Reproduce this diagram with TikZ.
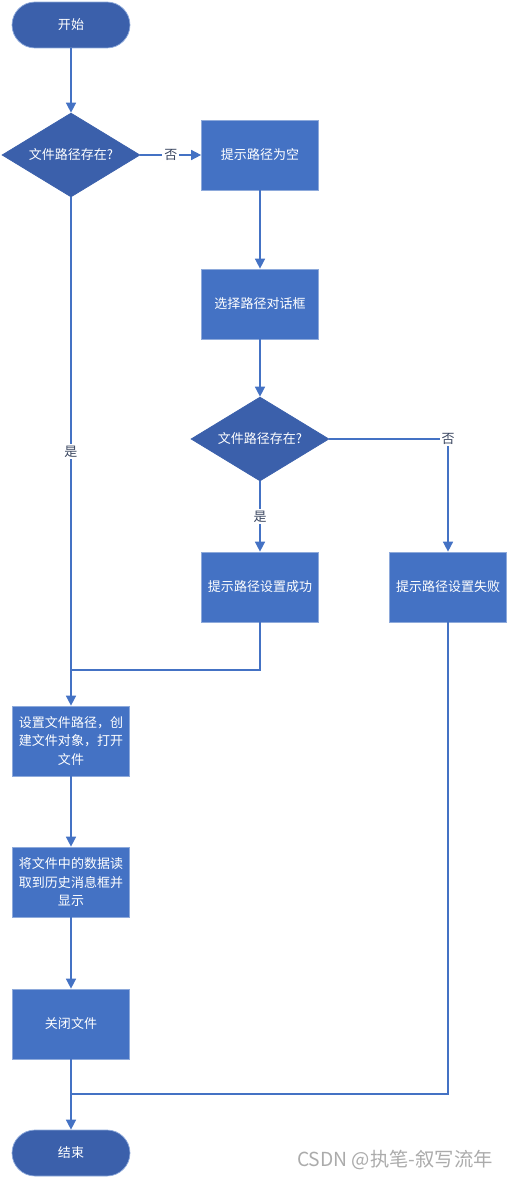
\documentclass[tikz,border=0pt]{standalone}
\usepackage{fontspec}
\setmainfont{Noto Sans CJK SC}
\usetikzlibrary{arrows.meta,positioning,shapes.geometric}
\definecolor{cBox}{HTML}{4472C4}
\definecolor{cDark}{HTML}{3B60AB}
\definecolor{cEdge}{HTML}{8EAADB}
\definecolor{cLine}{HTML}{4472C4}
\definecolor{cLab}{HTML}{3A4660}
\tikzset{
  term/.style={rectangle,rounded corners=0.46cm,draw=cEdge,fill=cDark,
               minimum width=2.36cm,minimum height=0.92cm,text=white,
               font=\fontsize{7.4}{10.5}\selectfont},
  ask/.style={diamond,fill=cDark,draw=cDark,shape aspect=1.64,inner sep=0pt,
              minimum width=2.76cm,minimum height=1.68cm,text=white,
              font=\fontsize{7.4}{10.5}\selectfont},
  act/.style={rectangle,draw=cEdge,fill=cBox,minimum width=2.34cm,
              minimum height=1.4cm,text=white,align=center,inner sep=2pt,
              font=\fontsize{7.4}{10.5}\selectfont},
  flow/.style={-{Triangle[length=0.2cm,width=0.2cm]},line width=0.85pt,cLine},
  link/.style={line width=0.85pt,cLine},
  tag/.style={fill=white,inner sep=1pt,text=cLab,
              font=\fontsize{7.4}{9}\selectfont},
}
\begin{document}
\begin{tikzpicture}[x=0.02cm,y=-0.02cm]
  \useasboundingbox (0,0) rectangle (509,1179);
  % main column
  \node[term] (start) at (71,25) {开始};
  \node[ask]  (ask1)  at (71,155) {文件路径存在?};
  \node[act]  (open)  at (71,741) {设置文件路径，创\\建文件对象，打开\\文件};
  \node[act]  (read)  at (71,882) {将文件中的数据读\\取到历史消息框并\\显示};
  \node[act]  (close) at (71,1024) {关闭文件};
  \node[term] (stop)  at (71,1153) {结束};
  % path selection branch
  \node[act]  (empty) at (260,155) {提示路径为空};
  \node[act]  (pick)  at (260,304) {选择路径对话框};
  \node[ask]  (ask2)  at (260,439) {文件路径存在?};
  \node[act]  (ok)    at (260,587) {提示路径设置成功};
  \node[act]  (fail)  at (448,587) {提示路径设置失败};
  \coordinate (j1) at (71,670);
  \coordinate (j2) at (71,1094);
  % connectors
  \draw[flow] (start) -- (ask1);
  \draw[flow] (ask1.east) -- node[tag]{否} (empty.west);
  \draw[flow] (empty) -- (pick);
  \draw[flow] (pick) -- (ask2.north);
  \draw[flow] (ask2.south) -- node[tag]{是} (ok.north);
  \draw[flow] (ask2.east) -| node[tag,pos=0.5]{否} (fail.north);
  \draw[flow] (ask1.south) -- node[tag]{是} (open.north);
  \draw[link] (ok.south) |- (j1);
  \draw[flow] (open) -- (read);
  \draw[flow] (read) -- (close);
  \draw[flow] (close) -- (stop);
  \draw[link] (fail.south) |- (j2);
  \node[text=black!33,font=\fontsize{11}{13}\selectfont] (mark) at (395,1160) {CSDN @执笔-叙写流年};
\end{tikzpicture}
\end{document}
